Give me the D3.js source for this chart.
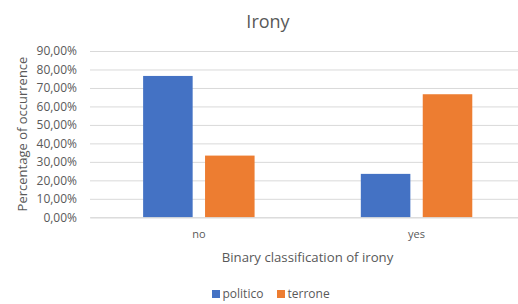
<!DOCTYPE html>
<html>
<head>
<meta charset="utf-8">
<script src="https://cdn.jsdelivr.net/npm/d3@7"></script>
<style>
  body { margin: 0; background: #fff; }
  text { font-family: "Open Sans", "Liberation Sans", sans-serif; fill: #595959; }
</style>
</head>
<body>
<svg id="chart"></svg>
<script>
// dati
const categories = ["no", "yes"];
const seriesNames = ["politico", "terrone"];
const politico = [76.5, 23.5];
const terrone = [33.4, 66.6];
const yTicks = [0, 10, 20, 30, 40, 50, 60, 70, 80, 90];
const colors = ["#4472C4", "#ED7D31"];

const width = 518, height = 304;

const svg = d3.select("#chart")
    .attr("width", width)
    .attr("height", height);

const rows = categories.map((c, i) => ({ cat: c, values: [politico[i], terrone[i]] }));

// scale
const xScale = d3.scaleBand()
    .domain(categories)
    .range([90, 525.4])
    .paddingInner(0.488)
    .paddingOuter(0.244);

const xInner = d3.scaleBand()
    .domain(seriesNames)
    .range([0, xScale.bandwidth()])
    .paddingInner(0.2);

const yScale = d3.scaleLinear()
    .domain([0, 90])
    .range([217.3, 51]);

// griglia
const yAxis = d3.axisLeft(yScale)
    .tickValues(yTicks)
    .tickSize(-(525.4 - 90))
    .tickFormat(d => d3.format(".2f")(d).replace(".", ",") + "%");

const yAxisGroup = svg.append("g")
    .attr("transform", "translate(90,0)")
    .call(yAxis);

yAxisGroup.select(".domain").remove();
yAxisGroup.selectAll("line")
    .attr("stroke", "#D9D9D9")
    .attr("stroke-width", 1);
yAxisGroup.selectAll("text")
    .attr("x", -13)
    .attr("font-size", "12px")
    .attr("fill", "#595959");

// barre
const groups = svg.append("g").selectAll("g")
    .data(rows)
    .enter()
    .append("g")
    .attr("transform", d => `translate(${xScale(d.cat)},0)`);

groups.selectAll("rect")
    .data(d => d.values.map((v, i) => ({ name: seriesNames[i], value: v, i: i })))
    .enter()
    .append("rect")
    .attr("x", d => xInner(d.name))
    .attr("width", xInner.bandwidth())
    .attr("y", d => yScale(d.value))
    .attr("height", d => yScale(0) - yScale(d.value))
    .attr("fill", d => colors[d.i]);

// asse x
const xAxis = d3.axisBottom(xScale).tickSize(0).tickPadding(13);
const xAxisGroup = svg.append("g")
    .attr("transform", `translate(0,${yScale(0)})`)
    .call(xAxis);
xAxisGroup.select(".domain").attr("stroke", "#D9D9D9");
xAxisGroup.selectAll("text")
    .attr("font-size", "11px")
    .attr("fill", "#595959");

// titoli
svg.append("text")
    .attr("x", 268)
    .attr("y", 28)
    .attr("text-anchor", "middle")
    .attr("font-size", "18px")
    .text("Irony");

svg.append("text")
    .attr("x", 307.5)
    .attr("y", 262)
    .attr("text-anchor", "middle")
    .attr("font-size", "13.2px")
    .text("Binary classification of irony");

svg.append("text")
    .attr("transform", "translate(27,134) rotate(-90)")
    .attr("text-anchor", "middle")
    .attr("font-size", "13px")
    .text("Percentage of occurrence");

// legenda (un po' più in alto per non tagliare le discendenti)
const legendX = [212, 277];
const legend = svg.append("g").selectAll("g")
    .data(seriesNames)
    .enter()
    .append("g")
    .attr("transform", (d, i) => `translate(${legendX[i]},290)`);

legend.append("rect")
    .attr("width", 8)
    .attr("height", 8)
    .attr("fill", (d, i) => colors[i]);

legend.append("text")
    .attr("x", 10.5)
    .attr("y", 8)
    .attr("font-size", "12px")
    .text(d => d);
</script>
</body>
</html>
